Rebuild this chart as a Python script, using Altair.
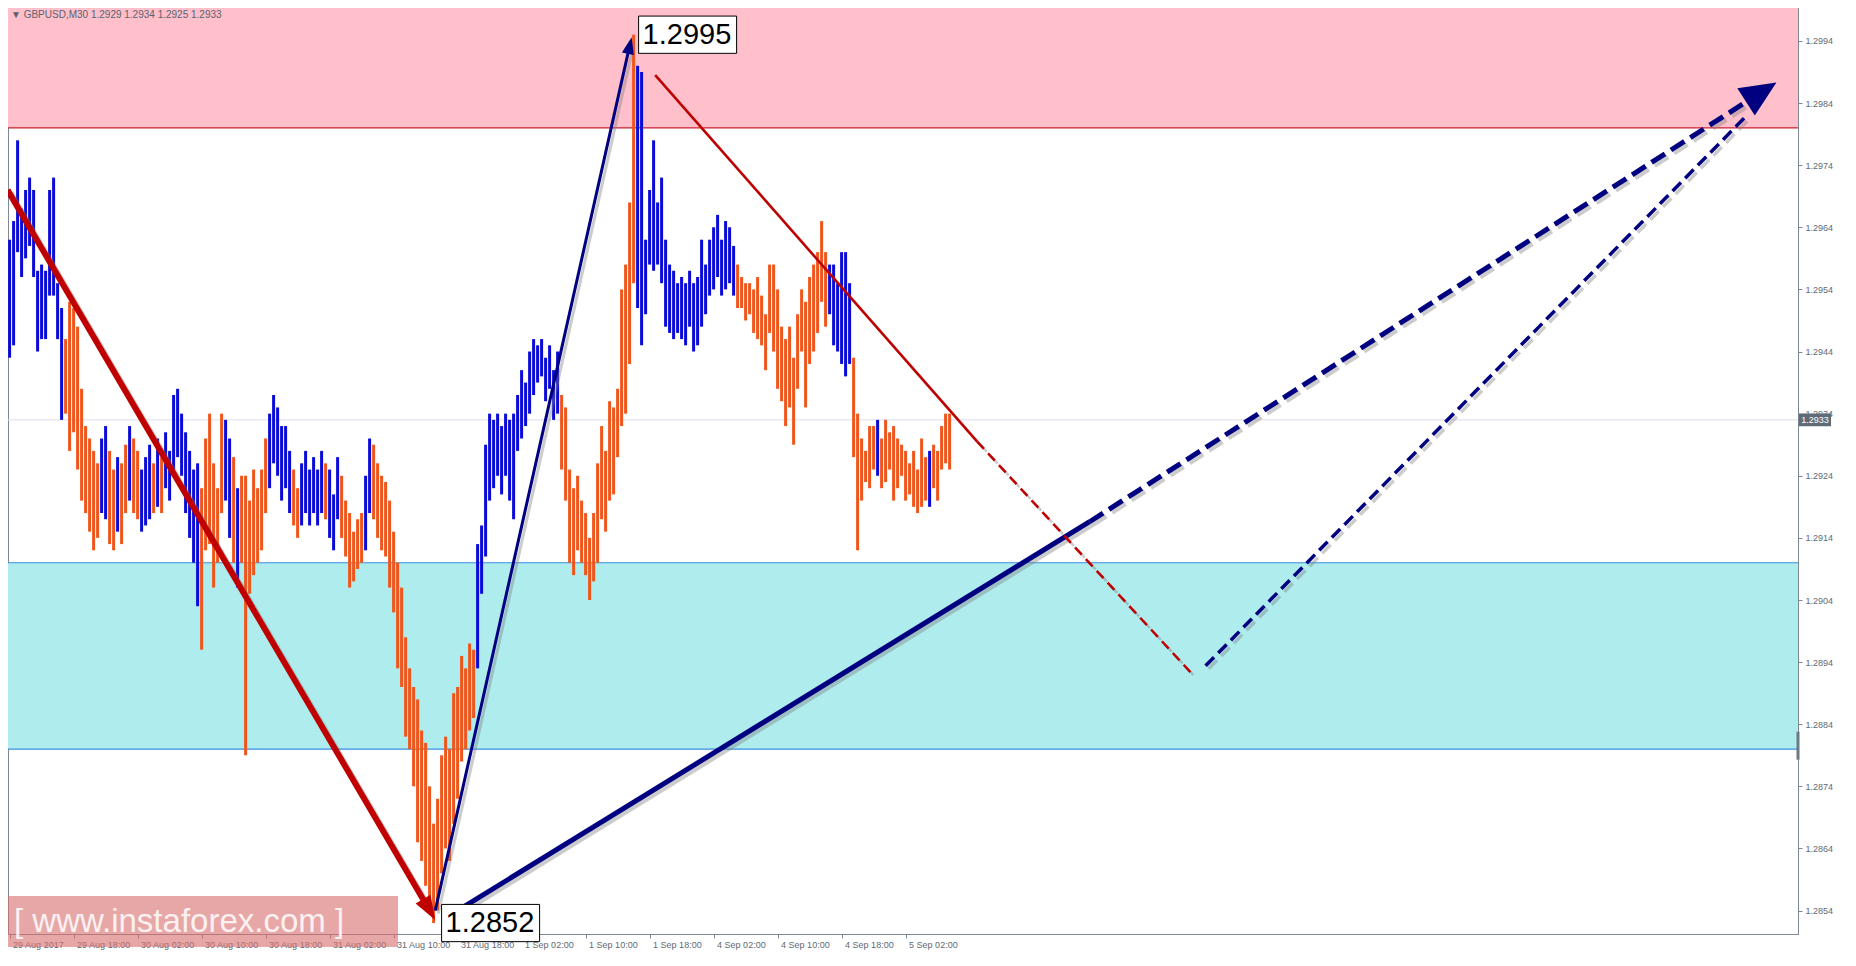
import json
import math
import altair as alt
import pandas as pd

# ---------------- data ----------------
bar_high = [
    1.2962, 1.2965, 1.2978, 1.2967, 1.2970, 1.2972, 1.2970, 1.2957, 1.2958, 1.2957,
    1.2970, 1.2972, 1.2955, 1.2951, 1.2946, 1.2952, 1.2951, 1.2948, 1.2938, 1.2932,
    1.2930, 1.2928, 1.2926, 1.2930, 1.2932, 1.2928, 1.2925, 1.2927, 1.2926, 1.2929,
    1.2932, 1.2930, 1.2928, 1.2925, 1.2927, 1.2929, 1.2926, 1.2930, 1.2927, 1.2931,
    1.2928, 1.2937, 1.2938, 1.2934, 1.2931, 1.2928, 1.2925, 1.2926, 1.2922, 1.2930,
    1.2934, 1.2926, 1.2922, 1.2934, 1.2933, 1.2930, 1.2927, 1.2922, 1.2924, 1.2924,
    1.2920, 1.2925, 1.2922, 1.2925, 1.2930, 1.2934, 1.2937, 1.2935, 1.2932, 1.2932,
    1.2928, 1.2925, 1.2922, 1.2926, 1.2928, 1.2925, 1.2927, 1.2925, 1.2928, 1.2926,
    1.2925, 1.2921, 1.2927, 1.2924, 1.2920, 1.2918, 1.2915, 1.2917, 1.2918, 1.2924,
    1.2930, 1.2929, 1.2926, 1.2924, 1.2923, 1.2920, 1.2915, 1.2910, 1.2906, 1.2898,
    1.2893, 1.2890, 1.2888, 1.2883, 1.2881, 1.2874, 1.2868, 1.2872, 1.2879, 1.2882,
    1.2880, 1.2889, 1.2890, 1.2895, 1.2893, 1.2897, 1.2896, 1.2913, 1.2916, 1.2929,
    1.2934, 1.2933, 1.2934, 1.2932, 1.2934, 1.2933, 1.2934, 1.2937, 1.2941, 1.2939,
    1.2944, 1.2946, 1.2945, 1.2946, 1.2943, 1.2945, 1.2941, 1.2944, 1.2937, 1.2935,
    1.2925, 1.2922, 1.2924, 1.2920, 1.2918, 1.2914, 1.2918, 1.2926, 1.2932, 1.2928,
    1.2936, 1.2935, 1.2938, 1.2954, 1.2958, 1.2968, 1.2995, 1.2990, 1.2989, 1.2962,
    1.2970, 1.2978, 1.2968, 1.2972, 1.2962, 1.2958, 1.2957, 1.2955, 1.2956, 1.2955,
    1.2957, 1.2955, 1.2956, 1.2962, 1.2958, 1.2962, 1.2964, 1.2966, 1.2962, 1.2965,
    1.2964, 1.2961, 1.2958, 1.2956, 1.2955, 1.2955, 1.2954, 1.2956, 1.2953, 1.2950,
    1.2958, 1.2958, 1.2954, 1.2948, 1.2946, 1.2948, 1.2943, 1.2950, 1.2954, 1.2952,
    1.2956, 1.2958, 1.2960, 1.2965, 1.2960, 1.2958, 1.2958, 1.2955, 1.2960, 1.2960,
    1.2955, 1.2943, 1.2934, 1.2930, 1.2928, 1.2932, 1.2932, 1.2933, 1.2930, 1.2933,
    1.2931, 1.2932, 1.2930, 1.2929, 1.2928, 1.2926, 1.2928, 1.2925, 1.2930, 1.2927,
    1.2928, 1.2929, 1.2928, 1.2932, 1.2934, 1.2934,
]
bar_low = [
    1.2943, 1.2945, 1.2960, 1.2956, 1.2959, 1.2961, 1.2956, 1.2944, 1.2946, 1.2946,
    1.2953, 1.2953, 1.2946, 1.2933, 1.2934, 1.2928, 1.2931, 1.2925, 1.2920, 1.2918,
    1.2915, 1.2912, 1.2914, 1.2918, 1.2917, 1.2913, 1.2912, 1.2915, 1.2913, 1.2918,
    1.2920, 1.2918, 1.2917, 1.2915, 1.2916, 1.2917, 1.2918, 1.2919, 1.2918, 1.2922,
    1.2920, 1.2925, 1.2927, 1.2924, 1.2918, 1.2914, 1.2910, 1.2903, 1.2896, 1.2912,
    1.2913, 1.2906, 1.2910, 1.2918, 1.2920, 1.2914, 1.2910, 1.2906, 1.2910, 1.2879,
    1.2905, 1.2908, 1.2910, 1.2912, 1.2918, 1.2922, 1.2926, 1.2924, 1.2920, 1.2922,
    1.2918, 1.2916, 1.2914, 1.2916, 1.2918, 1.2916, 1.2918, 1.2916, 1.2918, 1.2917,
    1.2914, 1.2912, 1.2917, 1.2914, 1.2911, 1.2906, 1.2907, 1.2909, 1.2910, 1.2912,
    1.2918, 1.2917, 1.2914, 1.2912, 1.2911, 1.2906, 1.2902, 1.2893, 1.2890, 1.2882,
    1.2880, 1.2874, 1.2865, 1.2862, 1.2858, 1.2856, 1.2852, 1.2854, 1.2860, 1.2864,
    1.2862, 1.2868, 1.2872, 1.2878, 1.2880, 1.2883, 1.2885, 1.2893, 1.2905, 1.2911,
    1.2920, 1.2922, 1.2924, 1.2921, 1.2924, 1.2920, 1.2917, 1.2928, 1.2930, 1.2932,
    1.2934, 1.2937, 1.2939, 1.2940, 1.2936, 1.2938, 1.2933, 1.2934, 1.2925, 1.2920,
    1.2910, 1.2908, 1.2912, 1.2910, 1.2908, 1.2904, 1.2907, 1.2910, 1.2917, 1.2915,
    1.2920, 1.2921, 1.2927, 1.2932, 1.2934, 1.2942, 1.2955, 1.2951, 1.2945, 1.2950,
    1.2958, 1.2957, 1.2958, 1.2955, 1.2948, 1.2947, 1.2946, 1.2947, 1.2946, 1.2945,
    1.2948, 1.2944, 1.2945, 1.2948, 1.2950, 1.2953, 1.2954, 1.2956, 1.2953, 1.2954,
    1.2955, 1.2953, 1.2951, 1.2951, 1.2949, 1.2950, 1.2947, 1.2946, 1.2945, 1.2941,
    1.2947, 1.2944, 1.2938, 1.2936, 1.2932, 1.2935, 1.2929, 1.2938, 1.2944, 1.2935,
    1.2942, 1.2944, 1.2947, 1.2952, 1.2948, 1.2950, 1.2945, 1.2944, 1.2942, 1.2940,
    1.2942, 1.2927, 1.2912, 1.2920, 1.2923, 1.2922, 1.2925, 1.2924, 1.2922, 1.2923,
    1.2925, 1.2920, 1.2922, 1.2924, 1.2920, 1.2921, 1.2919, 1.2918, 1.2919, 1.2920,
    1.2919, 1.2922, 1.2920, 1.2925, 1.2926, 1.2925,
]
bar_up = [
    1, 1, 1, 1, 1, 1, 1, 1, 1, 1, 1, 1, 1, 1, 0, 0, 0, 0, 0, 0,
    0, 0, 0, 1, 1, 0, 0, 1, 0, 0, 1, 0, 0, 1, 1, 1, 0, 1, 0, 1,
    1, 1, 1, 1, 1, 1, 1, 1, 0, 0, 0, 0, 0, 0, 1, 1, 0, 1, 0, 0,
    0, 0, 0, 0, 0, 1, 1, 1, 1, 1, 1, 0, 0, 1, 1, 1, 1, 1, 1, 0,
    1, 1, 1, 0, 0, 0, 0, 0, 0, 1, 1, 0, 0, 0, 0, 0, 0, 0, 0, 0,
    0, 0, 0, 0, 0, 0, 0, 0, 0, 0, 0, 0, 0, 0, 0, 0, 0, 1, 1, 1,
    1, 1, 1, 1, 1, 1, 1, 1, 1, 1, 1, 1, 1, 1, 1, 1, 1, 1, 0, 0,
    0, 0, 0, 0, 0, 0, 0, 0, 0, 0, 0, 0, 0, 0, 0, 0, 0, 1, 1, 1,
    1, 1, 1, 1, 1, 1, 1, 1, 1, 1, 1, 1, 1, 1, 1, 1, 1, 1, 1, 1,
    1, 1, 0, 0, 0, 0, 0, 0, 0, 0, 0, 0, 0, 0, 0, 0, 0, 0, 0, 0,
    0, 0, 0, 0, 0, 1, 1, 1, 1, 1, 1, 0, 0, 0, 0, 0, 0, 1, 0, 0,
    0, 0, 0, 0, 0, 0, 0, 0, 0, 0, 1, 0, 0, 0, 0, 0,
]
assert len(bar_high) == len(bar_low) == len(bar_up)

x_tick_labels = ["29 Aug 2017", "29 Aug 18:00", "30 Aug 02:00", "30 Aug 10:00",
                 "30 Aug 18:00", "31 Aug 02:00", "31 Aug 10:00", "31 Aug 18:00",
                 "1 Sep 02:00", "1 Sep 10:00", "1 Sep 18:00", "4 Sep 02:00",
                 "4 Sep 10:00", "4 Sep 18:00", "5 Sep 02:00"]
bars_per_tick = 16
y_tick_values = [1.2854, 1.2864, 1.2874, 1.2884, 1.2894, 1.2904, 1.2914,
                 1.2924, 1.2934, 1.2944, 1.2954, 1.2964, 1.2974, 1.2984, 1.2994]

zone_names = ["resistance", "support"]
zone_low = [1.2980, 1.2880]
zone_high = [1.3010, 1.2910]

current_price = 1.2933
header_text = "\u25BC GBPUSD,M30  1.2929 1.2934 1.2925 1.2933"

# wave / forecast lines (bar index, price)
red_wave_i, red_wave_p = [-0.5, 106.4], [1.2970, 1.28525]
navy_wave_i, navy_wave_p = [106.4, 155.5], [1.2854, 1.29946]
navy_trend_i, navy_trend_p = [108.7, 270.0], [1.28527, 1.29166]
navy_fc_i, navy_fc_p = [270.0, 441.7], [1.29166, 1.29873]
red_trend_i, red_trend_p = [161.4, 241.9], [1.29885, 1.29295]
red_fc_i, red_fc_p = [241.9, 295.2], [1.29295, 1.28924]
navy_fc2_i, navy_fc2_p = [299.0, 433.7], [1.28934, 1.29816]

label_i = [156, 106]
label_p = [1.2995, 1.2852]
label_text = ["1.2995", "1.2852"]

# ---------------- layout ----------------
W, H = 1790, 926
PX_X = 4.0                 # pixels per bar
PX_Y = 62120.0             # pixels per price unit
XMIN = -0.4
XMAX = XMIN + W / PX_X
YMAX = 1.29993
YMIN = YMAX - H / PX_Y

BLUE = "#0b0bd8"
ORANGE = "#f0561c"
RED = "#c00000"
NAVY = "#000080"
AXIS_GRAY = "#7d8894"
LABEL_GRAY = "#5f6973"

xs = alt.Scale(domain=[XMIN, XMAX], nice=False, zero=False)
ys = alt.Scale(domain=[YMIN, YMAX], nice=False, zero=False)

label_expr = f"{json.dumps(x_tick_labels)}[round(datum.value / {bars_per_tick})]"
X_AXIS = alt.Axis(
    values=[k * bars_per_tick for k in range(len(x_tick_labels))],
    labelExpr=label_expr, labelAlign="left", labelOffset=3, labelPadding=2,
    tickSize=4, tickColor=AXIS_GRAY, domainColor=AXIS_GRAY, grid=False,
    labelFont="Liberation Sans", labelFontSize=9, labelColor=LABEL_GRAY,
    labelOverlap=False, labelFlush=False, title=None)
Y_AXIS = alt.Axis(
    orient="right", values=y_tick_values, format=".4f", labelAlign="left",
    labelPadding=3, tickSize=4, tickColor=AXIS_GRAY, domainColor=AXIS_GRAY,
    grid=False, labelFont="Liberation Sans", labelFontSize=9,
    labelColor=LABEL_GRAY, labelOverlap=False, labelFlush=False, title=None)


def X(f):
    return alt.X(f, type="quantitative", scale=xs, axis=X_AXIS, title=None)


def Y(f):
    return alt.Y(f, type="quantitative", scale=ys, axis=Y_AXIS, title=None)


layers = []

# zones
zones = pd.DataFrame({"name": zone_names, "lo": zone_low, "hi": zone_high,
                      "fill": ["#ffbfcb", "#afecee"]})
layers.append(alt.Chart(zones).mark_rect(clip=True).encode(
    x=alt.value(0), x2=alt.value(W), y=Y("lo"), y2=alt.Y2("hi"),
    color=alt.Color("fill:N", scale=None)))
border_df = pd.DataFrame({"p": [zone_low[0], zone_low[1], zone_high[1]],
                          "c": ["#d02030", "#3a8ee0", "#3a8ee0"]})
layers.append(alt.Chart(border_df).mark_rule(strokeWidth=1.2).encode(
    y=Y("p"), color=alt.Color("c:N", scale=None)))

# current price line
layers.append(alt.Chart(pd.DataFrame({"p": [current_price]})).mark_rule(
    color="#dcdcec", strokeWidth=1).encode(y=Y("p")))

# bars
bars = pd.DataFrame({"i": list(range(len(bar_high))), "hi": bar_high, "lo": bar_low,
                     "dir": ["up" if u else "down" for u in bar_up]})
layers.append(alt.Chart(bars).mark_rule(strokeWidth=3).encode(
    x=X("i"), y=Y("lo"), y2="hi:Q",
    color=alt.Color("dir:N", scale=alt.Scale(domain=["up", "down"], range=[BLUE, ORANGE]),
                    legend=None)))

ARROW = "M0,0 L0.36,1 L-0.36,1 Z"
ARROW_WIDE = "M0,0 L0.45,1 L-0.45,1 Z"


def arrow_geom(i_list, p_list, head_len):
    i0, p0, i1, p1 = i_list[-2], p_list[-2], i_list[-1], p_list[-1]
    dx, dy = (i1 - i0) * PX_X, (p1 - p0) * PX_Y
    d = math.hypot(dx, dy)
    ang = math.degrees(math.atan2(dx, dy)) % 360
    cut = 0.6 * head_len
    return ang, i1 - dx / d * cut / PX_X, p1 - dy / d * cut / PX_Y


def add_line(i_list, p_list, color, width, dash=None, head=None, head_shape=ARROW):
    ii, pp = list(i_list), list(p_list)
    ang = None
    if head:
        ang, ie, pe = arrow_geom(i_list, p_list, head)
        ii[-1], pp[-1] = ie, pe
    df = pd.DataFrame({"i": ii, "p": pp, "o": list(range(len(ii)))})
    mk = dict(strokeWidth=width, strokeCap="butt", clip=False)
    if dash:
        mk["strokeDash"] = dash
    layers.append(alt.Chart(df).mark_line(color="#808080", opacity=0.4, xOffset=3,
                                          yOffset=3, **mk).encode(
        x=X("i"), y=Y("p"), order="o:Q"))
    layers.append(alt.Chart(df).mark_line(color=color, **mk).encode(
        x=X("i"), y=Y("p"), order="o:Q"))
    if head:
        tip = pd.DataFrame({"i": [i_list[-1]], "p": [p_list[-1]]})
        layers.append(alt.Chart(tip).mark_point(
            shape=head_shape, size=(2 * head) ** 2, filled=True, fill=color,
            opacity=1, strokeWidth=0, angle=ang, clip=False).encode(x=X("i"), y=Y("p")))


add_line(red_wave_i, red_wave_p, RED, 6, head=24)
add_line(navy_wave_i, navy_wave_p, NAVY, 3, head=17)
add_line(navy_trend_i, navy_trend_p, NAVY, 5)
add_line(navy_fc_i, navy_fc_p, NAVY, 5, dash=[16, 7], head=36, head_shape=ARROW_WIDE)
add_line(red_trend_i, red_trend_p, RED, 2.5)
add_line(red_fc_i, red_fc_p, RED, 2.5, dash=[10, 6])
add_line(navy_fc2_i, navy_fc2_p, NAVY, 3.5, dash=[12, 6])

# value labels with boxes
BOX = "M-1,-0.38 L1,-0.38 L1,0.38 L-1,0.38 Z"
for k in range(len(label_text)):
    d = pd.DataFrame({"i": [label_i[k]], "p": [label_p[k]], "t": [label_text[k]]})
    off = 54 if k == 0 else 57
    layers.append(alt.Chart(d).mark_point(
        shape=BOX, size=98 ** 2, filled=True, fill="white", stroke="black",
        strokeWidth=1, opacity=1, xOffset=off, clip=False).encode(x=X("i"), y=Y("p")))
    layers.append(alt.Chart(d).mark_text(
        align="left", baseline="middle", dx=off - 45, font="Liberation Sans",
        fontSize=29, color="black", clip=False).encode(x=X("i"), y=Y("p"), text="t:N"))

# watermark
layers.append(alt.Chart(pd.DataFrame({"a": [0]})).mark_rect(
    fill="#d96c6c", opacity=0.6).encode(
    x=alt.value(0), x2=alt.value(390), y=alt.value(H - 38), y2=alt.value(H + 13)))
layers.append(alt.Chart(pd.DataFrame({"t": ["[  www.instaforex.com ]"]})).mark_text(
    align="left", baseline="middle", font="Liberation Sans", fontSize=33,
    color="white", opacity=0.85).encode(x=alt.value(6), y=alt.value(H - 12), text="t:N"))

# header
layers.append(alt.Chart(pd.DataFrame({"t": [header_text]})).mark_text(
    align="left", baseline="middle", font="Liberation Sans", fontSize=10,
    color="#5a636d").encode(x=alt.value(3), y=alt.value(7), text="t:N"))

# scroll marker on price axis
layers.append(alt.Chart(pd.DataFrame({"a": [1.28783], "b": [1.28828]})).mark_rule(
    color="#6c7884", strokeWidth=3).encode(x=alt.value(W), y=Y("a"), y2="b:Q"))

# current price tag
cp = pd.DataFrame({"p": [current_price], "t": [f"{current_price:.4f}"]})
layers.append(alt.Chart(cp).mark_point(
    shape="M-1,-0.4 L1,-0.4 L1,0.4 L-1,0.4 Z", size=32 ** 2, filled=True,
    fill="#5f6b77", opacity=1, strokeWidth=0, clip=False).encode(
    x=alt.value(W + 17), y=Y("p")))
layers.append(alt.Chart(cp).mark_text(
    align="center", baseline="middle", font="Liberation Sans", fontSize=9,
    color="white").encode(x=alt.value(W + 17), y=Y("p"), text="t:N"))

chart = alt.layer(*layers).properties(
    width=W, height=H,
    autosize=alt.AutoSizeParams(type="none"),
    padding={"left": 0, "top": 0, "right": 48, "bottom": 20},
    background="white",
).configure_view(stroke=AXIS_GRAY, strokeWidth=1)

chart.save("out.html", embed_options={"renderer": "svg", "actions": False})
